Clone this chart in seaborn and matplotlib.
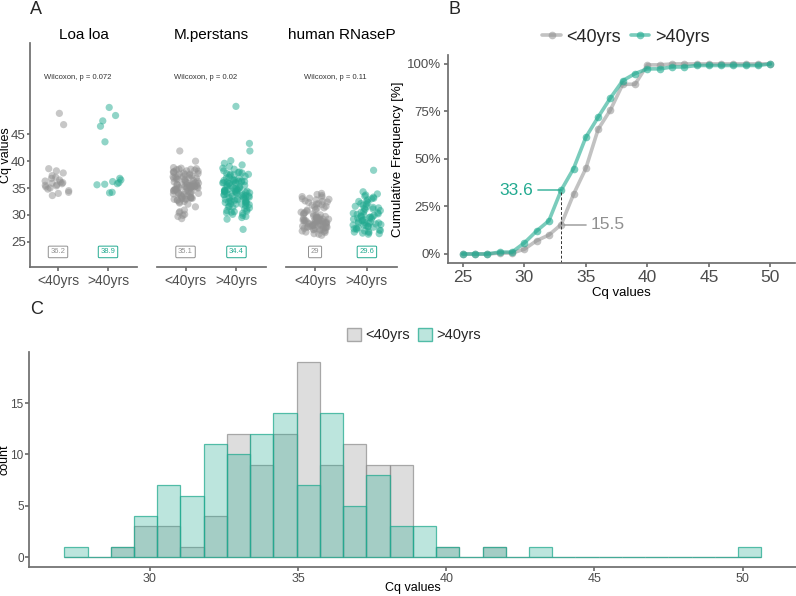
import numpy as np
import pandas as pd
import matplotlib
matplotlib.use("Agg")
import matplotlib.pyplot as plt
import seaborn as sns
from matplotlib.ticker import PercentFormatter
from matplotlib.lines import Line2D
from matplotlib.patches import Patch
from matplotlib.colors import to_rgba

# ---------------- data ----------------
groups = ["<40yrs", ">40yrs"]
targets = ["Loa loa", "M.perstans", "human RNaseP"]

loa_young = [48.9, 46.8, 33.6, 34.0, 34.2, 34.5, 34.8, 35.0, 35.2, 35.4, 35.5, 35.6,
             35.8, 35.9, 36.0, 36.1, 36.3, 36.5, 36.8, 37.0, 37.3, 37.8, 38.2, 38.6]
loa_old = [50.0, 48.5, 47.5, 46.5, 43.6, 36.8, 36.5, 36.2, 36.0, 35.8, 35.7, 35.6,
           34.2, 34.1]

mp_young = [29.3,
            29.7, 29.9, 30.1,
            30.4, 30.6, 30.9,
            31.5,
            32.0, 32.2, 32.4, 32.5,
            32.7, 32.8, 32.9, 32.9, 33.0, 33.0, 33.1, 33.1, 33.2, 33.2, 33.3, 33.3,
            33.5, 33.6, 33.7, 33.8, 33.9, 34.0, 34.0, 34.1, 34.1,
            34.2, 34.3, 34.3, 34.4, 34.5, 34.5, 34.6, 34.7, 34.7, 34.8, 34.9, 34.9,
            35.0, 35.0, 35.1, 35.1, 35.1, 35.2, 35.2, 35.3, 35.3, 35.3, 35.4, 35.4,
            35.5, 35.5, 35.6, 35.6, 35.6, 35.7, 35.7,
            35.8, 35.9, 36.0, 36.0, 36.1, 36.2, 36.3, 36.4, 36.5,
            36.6, 36.6, 36.7, 36.8, 36.9, 36.9, 37.0, 37.1, 37.1, 37.2, 37.25,
            37.4, 37.5, 37.6, 37.6, 37.7, 37.8, 37.9, 38.0, 38.05,
            38.15, 38.2, 38.3, 38.4, 38.5, 38.5, 38.6, 38.7, 38.8,
            40.0, 41.9]
mp_old = [27.3,
          29.2,
          29.5, 29.7, 29.9, 30.1,
          30.3, 30.4, 30.5, 30.6, 30.7, 30.8, 31.0,
          31.1, 31.3, 31.4, 31.5, 31.6, 31.75,
          31.9, 32.0, 32.0, 32.1, 32.2, 32.2, 32.3, 32.4, 32.4, 32.5, 32.55,
          32.65, 32.7, 32.8, 32.9, 33.0, 33.0, 33.1, 33.2, 33.3, 33.35,
          33.45, 33.5, 33.6, 33.6, 33.7, 33.8, 33.8, 33.9, 34.0, 34.0, 34.1, 34.15,
          34.2, 34.25, 34.3, 34.35, 34.4, 34.45, 34.5, 34.55, 34.6, 34.65, 34.7, 34.8, 34.85, 34.9,
          35.0, 35.1, 35.2, 35.3, 35.4, 35.5, 35.6,
          35.8, 35.85, 35.9, 35.95, 36.0, 36.05, 36.1, 36.15, 36.2, 36.25, 36.3, 36.35, 36.4, 36.45,
          36.6, 36.8, 36.9, 37.0, 37.2,
          37.35, 37.45, 37.55, 37.6, 37.7, 37.8, 37.9, 38.0,
          38.2, 38.5, 38.7,
          39.0, 39.3, 39.6,
          40.1, 41.9, 43.3, 50.2]

rn_young = [26.2, 26.4, 26.5, 26.7, 26.8, 26.9, 27.0, 27.1, 27.1, 27.2, 27.3, 27.3, 27.4,
            27.5, 27.5, 27.6, 27.7, 27.7, 27.8, 27.8, 27.9, 27.9, 28.0, 28.0, 28.1, 28.1,
            28.2, 28.2, 28.3, 28.3, 28.4, 28.4, 28.5, 28.5, 28.6, 28.6, 28.7, 28.7, 28.8,
            28.8, 28.9, 28.9, 29.0, 29.0, 29.0, 29.1, 29.1, 29.2, 29.2, 29.3, 29.3, 29.4,
            29.5, 29.5, 29.6, 29.7, 29.8, 29.9, 30.0, 30.1, 30.2, 30.3, 30.4, 30.5, 30.7,
            30.9, 31.0, 31.2, 31.3, 31.5, 31.6, 31.8, 31.9, 32.0, 32.1, 32.3, 32.4, 32.5,
            32.6, 32.8, 32.9, 33.0, 33.1, 33.3, 33.4, 33.6, 33.8, 34.0]
rn_old = [26.4, 26.5, 26.6, 26.7, 26.8, 26.9, 27.0, 27.1, 27.2, 27.3, 27.4, 27.5, 27.6,
          27.7, 27.8, 27.9, 28.0, 28.1, 28.1, 28.2, 28.3, 28.4, 28.5, 28.5, 28.6, 28.7,
          28.8, 28.9, 29.0, 29.1, 29.2, 29.3, 29.4, 29.5, 29.6, 29.6, 29.7, 29.8, 29.9,
          30.0, 30.1, 30.2, 30.3, 30.4, 30.5, 30.6, 30.8, 31.0, 31.1, 31.2, 31.3, 31.4,
          31.5, 31.6, 31.8, 32.0, 32.1, 32.3, 32.5, 32.6, 32.8, 33.0, 33.1, 33.3, 33.5,
          33.7, 33.9, 34.3, 38.3]

wilcox_labels = ["Wilcoxon, p = 0.072", "Wilcoxon, p = 0.02", "Wilcoxon, p = 0.11"]
median_labels = [["36.2", "38.9"], ["35.1", "34.4"], ["29", "29.6"]]

# cumulative frequency (panel B)
cq_grid = [25, 26, 27, 28, 29, 30, 31, 32, 33, 34, 35, 36, 37, 38, 39, 40, 41, 42, 43, 44,
           45, 46, 47, 48, 49, 50]
cum_young = [0, 0, 0, 0.005, 0.005, 0.025, 0.07, 0.10, 0.155, 0.314, 0.45, 0.656, 0.758,
             0.893, 0.893, 0.995, 0.995, 1.0, 1.0, 1.0, 1.0, 1.0, 1.0, 1.0, 1.0, 1.0]
cum_old = [0, 0, 0, 0.01, 0.01, 0.058, 0.121, 0.175, 0.336, 0.449, 0.614, 0.72, 0.821,
           0.912, 0.949, 0.974, 0.974, 0.984, 0.984, 0.992, 0.992, 0.992, 0.992, 0.992,
           0.992, 1.0]

grey = "#909090"
teal = "#22AA90"
pal = {"<40yrs": grey, ">40yrs": teal}
txt = "#4d4d4d"

# ---------------- style ----------------
sns.set_theme(style="ticks")
plt.rcParams["font.family"] = ["Liberation Sans", "DejaVu Sans"]
plt.rcParams["axes.edgecolor"] = "#6e6e6e"
plt.rcParams["xtick.color"] = "#6e6e6e"
plt.rcParams["ytick.color"] = "#6e6e6e"
plt.rcParams["xtick.labelcolor"] = txt
plt.rcParams["ytick.labelcolor"] = txt
plt.rcParams["xtick.major.size"] = 3
plt.rcParams["ytick.major.size"] = 3

W, H = 796, 596
fig = plt.figure(figsize=(W / 100, H / 100), dpi=100)


def ax_px(l, t, r, b):
    return fig.add_axes([l / W, 1 - b / H, (r - l) / W, (b - t) / H])


# ---------------- panel A ----------------
strip_data = [(loa_young, loa_old), (mp_young, mp_old), (rn_young, rn_old)]
facet_px = [(30, 137), (157, 266), (286, 397)]
np.random.seed(3)
for i, (name, (yv, ov)) in enumerate(zip(targets, strip_data)):
    ax = ax_px(facet_px[i][0], 43, facet_px[i][1], 266.7)
    df = pd.DataFrame({"group": [groups[0]] * len(yv) + [groups[1]] * len(ov),
                       "cq": list(yv) + list(ov)})
    sns.stripplot(data=df, x="group", y="cq", hue="group", order=groups, palette=pal,
                  jitter=0.27, size=5.2, alpha=0.5, linewidth=0, legend=False, ax=ax)
    ax.set_xlim(-0.56, 1.58)
    ax.set_ylim(20.35, 62)
    ax.set_yticks([25, 30, 35, 40, 45])
    ax.set_xlabel("")
    ax.tick_params(axis="x", labelsize=10, pad=2)
    ax.tick_params(axis="y", labelsize=9.5, pad=0.5, length=2.5)
    sns.despine(ax=ax)
    if i == 0:
        ax.set_ylabel("Cq values", fontsize=9, color="black")
        ax.yaxis.set_label_coords(-18 / 107, 0.5)
    else:
        ax.set_ylabel("")
        ax.spines["left"].set_visible(False)
        ax.set_yticks([])
    ax.set_title(name, fontsize=11, pad=3, color="black")
    ax.text(0.4, 55.5, wilcox_labels[i], fontsize=5.5, ha="center", va="center", color="#333333")
    for j, g in enumerate(groups):
        ax.text(j, 23.1, median_labels[i][j], fontsize=5.5, ha="center", va="center", color=pal[g],
                bbox=dict(boxstyle="round,pad=0.3,rounding_size=0.15", fc="white", ec=pal[g], lw=0.7))

fig.text(30 / W, 1 - 1 / H, "A", fontsize=13, ha="left", va="top")

# ---------------- panel B ----------------
axB = ax_px(448, 55, 795, 263.3)
sns.lineplot(x=cq_grid, y=cum_young, color=grey, marker="o", markersize=5.5, linewidth=2.6,
             alpha=0.55, markeredgewidth=0, ax=axB)
sns.lineplot(x=cq_grid, y=cum_old, color=teal, marker="o", markersize=5.5, linewidth=2.6,
             alpha=0.6, markeredgewidth=0, ax=axB)
axB.set_xlim(23.8, 52)
axB.set_ylim(-0.049, 1.047)
axB.set_yticks([0, 0.25, 0.5, 0.75, 1.0])
axB.yaxis.set_major_formatter(PercentFormatter(1.0, decimals=0))
axB.set_xticks([25, 30, 35, 40, 45, 50])
axB.tick_params(axis="x", labelsize=12.5, pad=2)
axB.tick_params(axis="y", labelsize=9.5, pad=2)
axB.set_xlabel("Cq values", fontsize=9.5, labelpad=1, color="black")
axB.set_ylabel("Cumulative Frequency [%]", fontsize=9.5, labelpad=2, color="black")
sns.despine(ax=axB)
axB.plot([33, 33], [-0.049, cum_old[8]], color="#333333", lw=0.7, ls=(0, (3, 2)))
axB.plot([31.1, 33], [cum_old[8], cum_old[8]], color=teal, lw=1.2, alpha=0.8)
axB.text(30.7, cum_old[8], "33.6", color=teal, fontsize=12.5, ha="right", va="center")
axB.plot([33.2, 35.0], [cum_young[8], cum_young[8]], color=grey, lw=1.2, alpha=0.8)
axB.text(35.4, cum_young[8], "15.5", color=grey, fontsize=12.5, ha="left", va="center")
handlesB = [Line2D([], [], color=grey, marker="o", lw=2.6, markersize=5.5, alpha=0.55, mew=0),
            Line2D([], [], color=teal, marker="o", lw=2.6, markersize=5.5, alpha=0.6, mew=0)]
fig.legend(handlesB, groups, loc="center", bbox_to_anchor=(626 / W, 1 - 37 / H), ncol=2,
           frameon=False, fontsize=13, handlelength=1.0, handletextpad=0.3, columnspacing=0.6)
fig.text(448 / W, 1 - 1 / H, "B", fontsize=13, ha="left", va="top")

# ---------------- panel C ----------------
axC = ax_px(29.3, 351.7, 796, 566.7)
for vals, g, fa, ea in [(mp_young, groups[0], 0.3, 0.75), (mp_old, groups[1], 0.3, 0.75)]:
    n0 = len(axC.patches)
    sns.histplot(x=vals, bins=30, binrange=(27.11, 50.63), color=pal[g], ax=axC)
    for p in axC.patches[n0:]:
        p.set_alpha(None)
        p.set_facecolor(to_rgba(pal[g], fa))
        p.set_edgecolor(to_rgba(pal[g], ea))
        p.set_linewidth(0.9)
axC.set_xlim(25.93, 51.8)
axC.set_ylim(-0.92, 20.0)
axC.set_yticks([0, 5, 10, 15])
axC.set_xticks([30, 35, 40, 45, 50])
axC.tick_params(axis="x", labelsize=9, pad=1.5)
axC.tick_params(axis="y", labelsize=8.5, pad=1)
axC.set_xlabel("Cq values", fontsize=9, color="black")
axC.xaxis.set_label_coords(0.5, -15.5 / 215)
axC.set_ylabel("count", fontsize=9, color="black")
axC.yaxis.set_label_coords(-18.5 / 767, 0.5)
sns.despine(ax=axC)
handlesC = [Patch(facecolor=to_rgba(grey, 0.3), edgecolor=to_rgba(grey, 0.75)),
            Patch(facecolor=to_rgba(teal, 0.3), edgecolor=to_rgba(teal, 0.75))]
fig.legend(handlesC, groups, loc="center", bbox_to_anchor=(414 / W, 1 - 335 / H), ncol=2,
           frameon=False, fontsize=10.5, handlelength=1.0, handleheight=1.0,
           handletextpad=0.3, columnspacing=0.5)
fig.text(30 / W, 1 - 301 / H, "C", fontsize=13, ha="left", va="top")

fig.savefig("out.png", dpi=100)
